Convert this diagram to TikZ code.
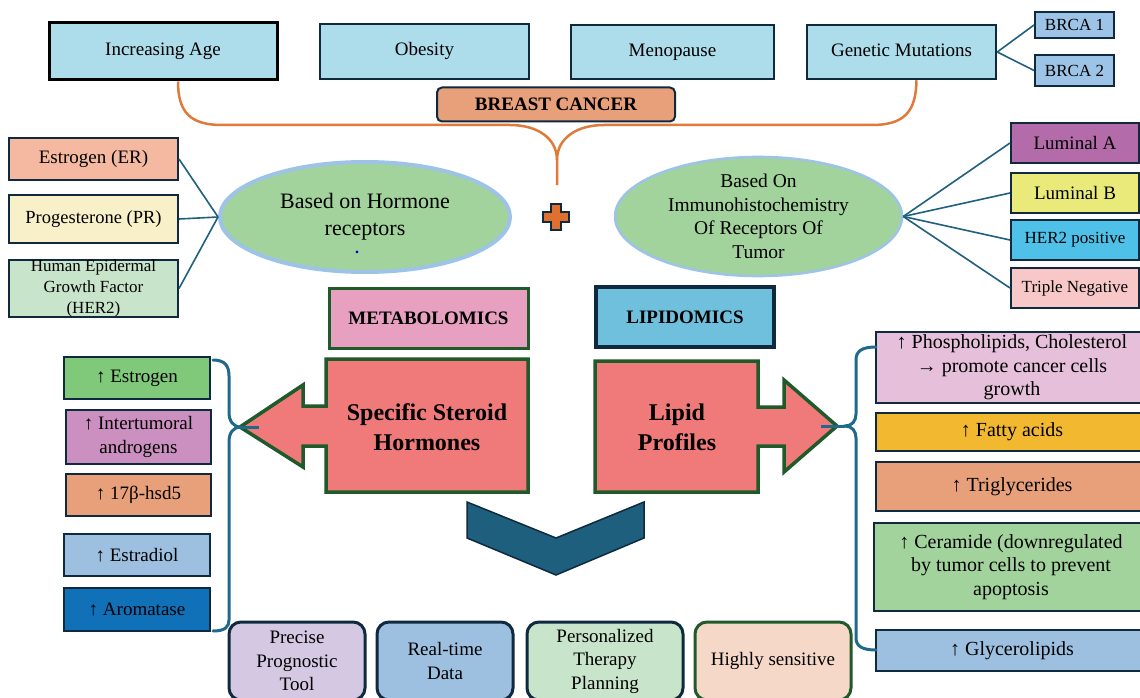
\documentclass[tikz,border=0pt]{standalone}
\usepackage{fontspec}
\setmainfont{Liberation Serif}
\usetikzlibrary{shapes.geometric,calc}

\definecolor{cNavy}{HTML}{0F2A3F}
\definecolor{cTop}{HTML}{ADDCEA}
\definecolor{cBrca}{HTML}{9DC3E6}
\definecolor{cSalmon}{HTML}{E8A07A}
\definecolor{cOrLine}{HTML}{E07A3A}
\definecolor{cPlus}{HTML}{E07030}
\definecolor{cTeal}{HTML}{1F6080}
\definecolor{cEll}{HTML}{A3D39C}
\definecolor{cEllLine}{HTML}{9DC3E6}
\definecolor{cEst}{HTML}{F4B9A0}
\definecolor{cPro}{HTML}{F8F0C8}
\definecolor{cHer}{HTML}{C8E4CA}
\definecolor{cLumA}{HTML}{B36BAA}
\definecolor{cLumB}{HTML}{EAEA7A}
\definecolor{cHerPos}{HTML}{4FC0E8}
\definecolor{cTrip}{HTML}{F8C8C8}
\definecolor{cMeta}{HTML}{E8A0C0}
\definecolor{cDkGreen}{HTML}{1F5A2A}
\definecolor{cLip}{HTML}{6FC0DC}
\definecolor{cArrow}{HTML}{F07A7A}
\definecolor{cChev}{HTML}{1D5F7C}
\definecolor{cBrace}{HTML}{1F6A8A}
\definecolor{cGreenA}{HTML}{80C87A}
\definecolor{cOrchid}{HTML}{CC90C0}
\definecolor{cLtBlue}{HTML}{9DC0E0}
\definecolor{cStrBlue}{HTML}{1070B8}
\definecolor{cPinkLav}{HTML}{E6C0DA}
\definecolor{cAmber}{HTML}{F2B830}
\definecolor{cLav}{HTML}{D5C8E2}
\definecolor{cPeach}{HTML}{F6D8C8}

\tikzset{
  fA/.style={font=\fontsize{19}{23.5}\selectfont},
  fB/.style={font=\fontsize{17}{21}\selectfont},
  fR/.style={font=\fontsize{20}{23.5}\selectfont},
  topbox/.style={draw=cNavy, line width=2.5, fill=cTop, inner sep=0, fA, text height=13, text depth=4},
  smallbox/.style={draw=cNavy, line width=2, inner sep=0, align=center},
  listbox/.style={draw=cNavy, line width=2, inner sep=0, align=center, fA},
  rlistbox/.style={draw=cNavy, line width=2, inner sep=0, align=center, fR},
  botbox/.style={draw=cNavy, line width=3, rounded corners=12, inner sep=0, align=center, fA},
  link/.style={draw=cTeal, line width=1.6},
  orangeline/.style={draw=cOrLine, line width=2.5},
  bracestyle/.style={draw=cBrace, line width=3, line cap=round},
  ell/.style={ellipse, fill=cEll, draw=cEllLine, inner sep=0, align=center},
}

\begin{document}
\begin{tikzpicture}[x=1pt, y=-1pt]
\useasboundingbox (0,0) rectangle (1140,698);
\clip (0,0) rectangle (1140,698);
\fill[white] (0,0) rectangle (1140,698);

% top row
\node[topbox, draw=black, line width=3, minimum width=228, minimum height=57] (ia) at (163,51.5) {Increasing Age};
\node[topbox, minimum width=209, minimum height=55] (ob) at (424.5,51.5) {Obesity};
\node[topbox, minimum width=203, minimum height=54] (mp) at (672.5,52) {Menopause};
\node[topbox, minimum width=189, minimum height=54] (gm) at (901.5,52) {Genetic Mutations};
\node[smallbox, fill=cBrca, fB, minimum width=79, minimum height=26] (b1) at (1074.5,25) {BRCA 1};
\node[smallbox, fill=cBrca, fB, minimum width=79, minimum height=31] (b2) at (1074.5,70.5) {BRCA 2};
\draw[link] (gm.east) -- (b1.west);
\draw[link] (gm.east) -- (b2.west);

% orange connector
\coordinate (oa) at ([xshift=15]ia.south);
\coordinate (ob2) at ([xshift=15]gm.south);
\coordinate (jn) at (557,160);
\coordinate (jend) at (557,185);
\draw[orangeline] (oa) .. controls (178,112) and (190,125) .. (222,125) -- (510,125) .. controls (537,125) and (557,138) .. (jn) -- (jend);
\draw[orangeline] (ob2) .. controls (916,112) and (904,125) .. (872,125) -- (604,125) .. controls (577,125) and (557,138) .. (jn);

\node[draw=cNavy, line width=2, fill=cSalmon, rounded corners=5, minimum width=238, minimum height=34, inner sep=0, font=\fontsize{19}{23}\selectfont\bfseries] (bc) at (556,104.5) {BREAST CANCER};

% plus sign
\draw[fill=cPlus, draw=cNavy, line width=1.5] (551,204) -- (561,204) -- (561,212) -- (569,212) -- (569,222) -- (561,222) -- (561,230) -- (551,230) -- (551,222) -- (543,222) -- (543,212) -- (551,212) -- cycle;

% ellipses
\node[ell, line width=4, minimum width=290, minimum height=110, font=\fontsize{22}{27}\selectfont] (el) at (365,217) {Based on Hormone\\receptors};
\node[text=blue!75!black, font=\fontsize{16}{16}\selectfont\bfseries, inner sep=0] (dot) at (357,252) {.};
\node[ell, line width=2.5, minimum width=287, minimum height=107, font=\fontsize{19.5}{23.5}\selectfont] (er) at (758.5,216.5) {Based On\\Immunohistochemistry\\Of Receptors Of\\Tumor};

% left receptor boxes
\node[smallbox, fill=cEst, fA, minimum width=169, minimum height=42] (e1) at (93.5,159) {Estrogen (ER)};
\node[smallbox, fill=cPro, font=\fontsize{18.5}{22}\selectfont, minimum width=169, minimum height=48] (e2) at (93.5,219) {Progesterone (PR)};
\node[smallbox, fill=cHer, fB, minimum width=169, minimum height=57] (e3) at (93.5,288.5) {Human Epidermal\\Growth Factor\\(HER2)};
\draw[link] (e1.east) -- (el.west);
\draw[link] (e2.east) -- (el.west);
\draw[link] (e3.east) -- (el.west);

% right subtype boxes
\node[smallbox, fill=cLumA, fA, minimum width=128, minimum height=40] (la) at (1075,143) {Luminal A};
\node[smallbox, fill=cLumB, fA, minimum width=128, minimum height=40] (lb) at (1075,193) {Luminal B};
\node[smallbox, fill=cHerPos, fB, minimum width=128, minimum height=40] (hp) at (1075,240) {HER2 positive};
\node[smallbox, fill=cTrip, fB, minimum width=128, minimum height=40] (tn) at (1075,288) {Triple Negative};
\draw[link] (er.east) -- (la.west);
\draw[link] (er.east) -- (lb.west);
\draw[link] (er.east) -- (hp.west);
\draw[link] (er.east) -- (tn.west);

% omics titles
\node[draw=cDkGreen, line width=3, fill=cMeta, minimum width=199, minimum height=60, inner sep=0, font=\fontsize{19}{22}\selectfont\bfseries] (meta) at (428.5,318) {METABOLOMICS};
\node[draw=cNavy, line width=4, fill=cLip, minimum width=178, minimum height=60, inner sep=0, font=\fontsize{19}{22}\selectfont\bfseries] (lipi) at (685,317) {LIPIDOMICS};

% block arrows
\draw[fill=cArrow, draw=cDkGreen, line width=3.5, line join=miter] (528,359) -- (326,359) -- (326,406) -- (303,406) -- (303,385) -- (240,427) -- (303,467) -- (303,446) -- (326,446) -- (326,492) -- (528,492) -- cycle;
\node[align=center, inner sep=0, font=\fontsize{24}{30}\selectfont\bfseries] (ssh) at (427,427) {Specific Steroid\\Hormones};
\draw[fill=cArrow, draw=cDkGreen, line width=3.5, line join=miter] (595,361) -- (758,361) -- (758,407) -- (784,407) -- (784,380) -- (837,426) -- (784,472) -- (784,446) -- (758,446) -- (758,492) -- (595,492) -- cycle;
\node[align=center, inner sep=0, font=\fontsize{24}{30}\selectfont\bfseries] (lp) at (677,427) {Lipid\\Profiles};

% chevron
\draw[fill=cChev, draw=cNavy, line width=1.5] (467,502) -- (556,538) -- (644,502) -- (644,538) -- (556,575) -- (467,538) -- cycle;

% left list
\node[listbox, fill=cGreenA, minimum width=146, minimum height=42] (l1) at (137,378) {↑ Estrogen};
\node[listbox, fill=cOrchid, minimum width=145, minimum height=54] (l2) at (138.5,437) {↑ Intertumoral\\androgens};
\node[listbox, fill=cSalmon, minimum width=145, minimum height=42] (l3) at (138.5,495) {↑ 17β-hsd5};
\node[listbox, fill=cLtBlue, minimum width=146, minimum height=42] (l4) at (137,555) {↑ Estradiol};
\node[listbox, fill=cStrBlue, minimum width=146, minimum height=43] (l5) at (137,609.5) {↑ Aromatase};

% left brace
\coordinate (lbt) at (241,427);
\draw[bracestyle] (213,360) .. controls (225,360) and (229,366) .. (229,376) -- (229,412) .. controls (229,421) and (233,427) .. (lbt) .. controls (233,427) and (229,433) .. (229,442) -- (229,620) .. controls (229,627) and (225,631) .. (213,631);
\draw[bracestyle, line cap=butt] (lbt) -- (259,427);

% right list
\node[rlistbox, fill=cPinkLav, minimum width=272, minimum height=71] (r1) at (1012,367.5) {↑ Phospholipids, Cholesterol\\→ promote cancer cells\\growth};
\node[rlistbox, fill=cAmber, minimum width=272, minimum height=38] (r2) at (1012,432) {↑ Fatty acids};
\node[rlistbox, fill=cSalmon, minimum width=272, minimum height=49] (r3) at (1012,486.5) {↑ Triglycerides};
\node[rlistbox, fill=cEll, minimum width=274, minimum height=88] (r4) at (1011,567) {↑ Ceramide (downregulated\\by tumor cells to prevent\\apoptosis};
\node[rlistbox, fill=cLtBlue, minimum width=272, minimum height=41] (r5) at (1012,650.5) {↑ Glycerolipids};

% right brace
\coordinate (rbt) at (845,426);
\draw[bracestyle] (876,347) .. controls (862,347) and (856,351) .. (856,360) -- (856,414) .. controls (856,421) and (852,426) .. (rbt) .. controls (852,426) and (856,431) .. (856,438) -- (856,638) .. controls (856,646) and (862,650) .. (876,650);
\draw[bracestyle, line cap=butt] (821,426) -- (rbt);

% bottom boxes
\node[botbox, fill=cLav, minimum width=136, minimum height=78] (p1) at (297,661) {Precise\\Prognostic\\Tool};
\node[botbox, fill=cLtBlue, minimum width=136, minimum height=78] (p2) at (445,661) {Real-time\\Data};
\node[botbox, fill=cHer, minimum width=156, minimum height=78] (p3) at (605,661) {Personalized\\Therapy\\Planning};
\node[botbox, draw=cDkGreen, fill=cPeach, minimum width=156, minimum height=78] (p4) at (773,661) {Highly sensitive};
\end{tikzpicture}
\end{document}
